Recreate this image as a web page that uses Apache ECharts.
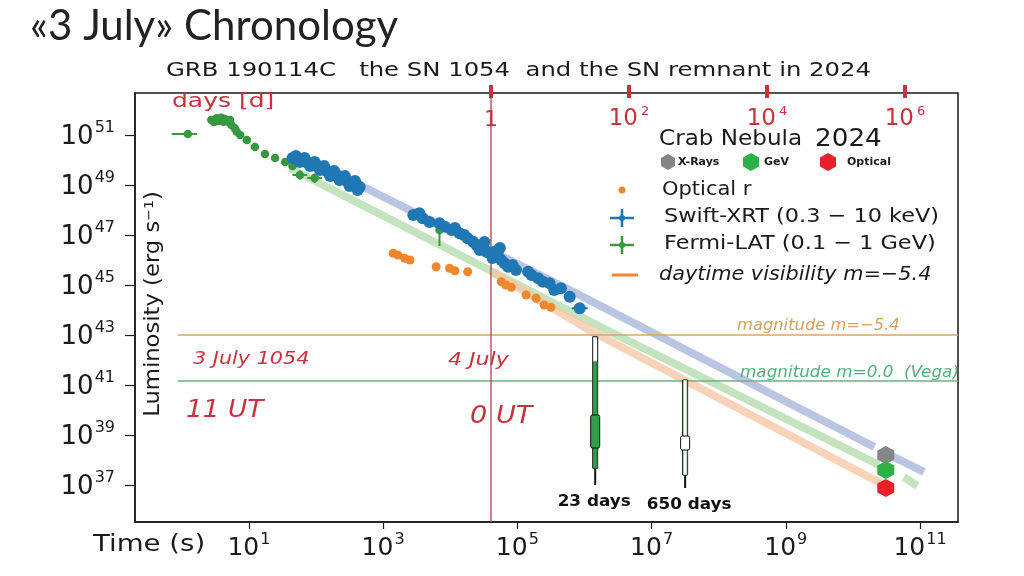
<!DOCTYPE html>
<html><head><meta charset="utf-8">
<script src="https://cdn.jsdelivr.net/npm/echarts@6/dist/echarts.min.js"></script>
<style>html,body{margin:0;padding:0;background:#fff}#c{width:1024px;height:576px}</style>
</head><body><div id="c"></div>
<script>
// All values are exponents: log10(time in s) and log10(luminosity in erg/s)
const xTickExps = [1, 3, 5, 7, 9, 11];
const yTickExps = [37, 39, 41, 43, 45, 47, 49, 51];
const dayTickExps = [0, 2, 4, 6];            // log10(days) on the top axis
const dayMarker = 0;                          // 1 day
const magMinus54 = 43;                        // magnitude m = -5.4
const magVega = 41.16;                        // magnitude m = 0.0 (Vega)
const lineStart = -0.06, lineEnd = 11.566;

const fermiPoints = [
  [0.09,51.04],[0.44,51.60],[0.48,51.52],[0.52,51.67],[0.54,51.56],[0.59,51.69],[0.62,51.53],
  [0.64,51.64],[0.69,51.53],[0.72,51.60],[0.74,51.40],[0.79,51.27],[0.82,51.13],[0.87,51.00],
  [0.97,50.80],[1.09,50.52],[1.24,50.24],[1.39,50.08],[1.54,49.92],[1.65,49.76],
  [1.76,49.40],[1.98,49.28],[3.84,47.20]
];
// [logT, logL, logT low, logT high, logL low, logL high]
const fermiErrors = [
  [0.09,51.04,-0.15,0.23,51.04,51.04],
  [1.76,49.40,1.65,1.87,49.22,49.58],
  [1.98,49.28,1.87,2.09,49.08,49.46],
  [3.84,47.20,3.84,3.84,46.56,47.40]
];
const swiftPoints = [
  [1.65,50.08],[1.71,50.04],[1.76,50.00],[1.80,50.00],[1.85,49.92],[1.89,49.88],[1.94,49.84],
  [1.98,49.80],[2.03,49.76],[2.07,49.68],[2.12,49.64],[2.16,49.56],[2.21,49.52],[2.25,49.44],
  [2.29,49.40],[2.34,49.36],[2.38,49.28],[2.43,49.20],[2.47,49.16],[2.52,49.08],[2.56,49.04],
  [2.61,49.00],[2.65,48.92],[2.62,48.80],[2.50,48.96],[2.35,49.20],[2.21,49.36],[2.06,49.60],
  [1.91,49.76],[1.76,49.92],[1.70,50.16],[1.83,50.08],[1.98,49.92],[2.12,49.76],[2.27,49.56],
  [2.43,49.36],[2.58,49.16],
  [3.45,47.80],[3.54,47.87],[3.59,47.67],[3.69,47.52],[3.84,47.47],[3.92,47.33],[4.02,47.20],
  [4.07,47.28],[4.14,47.07],[4.21,47.00],[4.26,46.87],[4.34,46.73],[4.39,46.60],[4.44,46.40],
  [4.49,46.53],[4.51,46.72],[4.54,46.33],[4.59,46.27],[4.63,46.08],[4.66,46.33],[4.71,46.20],
  [4.74,46.48],[4.76,46.00],[4.81,45.87],[4.86,45.73],[4.93,45.80],[4.98,45.60],[5.16,45.53],
  [5.21,45.40],[5.31,45.27],[5.38,45.13],[5.48,45.07],[5.55,44.80],[5.65,44.87],[5.78,44.53],
  [5.93,44.07]
];
const swiftErrors = [[5.93,44.07,5.81,6.05,44.07,44.07]];
const opticalPoints = [
  [3.15,46.27],[3.22,46.20],[3.32,46.07],[3.40,46.00],[3.79,45.73],[3.99,45.67],[4.07,45.57],
  [4.26,45.53],[4.76,45.13],[4.83,45.00],[4.91,44.91],[5.13,44.60],[5.28,44.47],[5.40,44.20],
  [5.50,44.11]
];
const bandXray = [[2.35,49.40],[5.78,44.80],[10.32,38.52]];
const bandXrayTail = [[10.46,38.32],[11.06,37.52]];
const bandGeV = [[1.61,49.68],[6.27,43.28],[10.39,37.80]];
const bandGeVTail = [[10.76,37.32],[10.96,36.96]];
const bandOptical = [[4.63,45.52],[6.07,43.20],[10.24,37.32],[10.42,37.08]];
const crabXray = [[10.49,38.20]];
const crabGeV = [[10.49,37.60]];
const crabOptical = [[10.49,36.88]];
// [logT, top, fill top, bulge top, bulge bottom, bar bottom, tail bottom]
const thermo = [
  [6.16, 42.93, 41.93, 39.80, 38.48, 37.67, 37.00],
  [7.50, 41.20, 41.20, 38.96, 38.40, 37.40, 36.88]
];
const thermoLabels = ['23 days', '650 days'];

// ---- styles ----
const RED = '#c9323d';
const GREEN = '#37983f', BLUE = '#1f77b4', ORANGE = '#f0862e';
const thermoFill = ['#2f9e44', '#ffffff'];
const HEX = 'path://M0,-1L0.866,-0.5L0.866,0.5L0,1L-0.866,0.5L-0.866,-0.5Z';
const F = '"DejaVu Sans", sans-serif';

const chart = echarts.init(document.getElementById('c'));

function supLabel(base, sub) {
  return {
    b: { fontSize: base, fontFamily: F, color: '#1a1a1a', lineHeight: base + 4, verticalAlign: 'bottom' },
    s: { fontSize: sub, fontFamily: F, color: '#1a1a1a', lineHeight: base + 4, verticalAlign: 'top', padding: [0, 0, 0, 1] }
  };
}
function errRender(params, api) {
  const y0 = api.value(1), x0 = api.value(0);
  const c = api.coord([x0, y0]);
  const xl = api.coord([api.value(2), y0])[0], xh = api.coord([api.value(3), y0])[0];
  const yl = api.coord([x0, api.value(4)])[1], yh = api.coord([x0, api.value(5)])[1];
  const col = api.visual('color');
  return { type: 'group', children: [
    { type: 'line', shape: { x1: xl, y1: c[1], x2: xh, y2: c[1] }, style: { stroke: col, lineWidth: 2 } },
    { type: 'line', shape: { x1: c[0], y1: yl, x2: c[0], y2: yh }, style: { stroke: col, lineWidth: 2 } }
  ]};
}
function thermoRender(params, api) {
  const i = params.dataIndex;
  const x = api.value(0);
  const cx = api.coord([x, api.value(1)])[0];
  const y = k => api.coord([x, api.value(k)])[1];
  const yTop = y(1), yFill = y(2), yB1 = y(3), yB2 = y(4), yBot = y(5), yTail = y(6);
  const fill = thermoFill[i];
  const ch = [
    { type: 'line', shape: { x1: cx, y1: yBot, x2: cx, y2: yTail }, style: { stroke: '#111', lineWidth: 2 } },
    { type: 'rect', shape: { x: cx - 2.5, y: yTop, width: 5, height: yBot - yTop }, style: { fill: '#fff', stroke: '#111', lineWidth: 1 } }
  ];
  if (yFill < yBot) ch.push({ type: 'rect', shape: { x: cx - 2, y: yFill, width: 4, height: yBot - yFill }, style: { fill: fill, stroke: '#1d5e2a', lineWidth: 0.6 } });
  ch.push({ type: 'rect', shape: { x: cx - 4.5, y: yB1, width: 9, height: yB2 - yB1, r: 1.5 }, style: { fill: fill, stroke: '#111', lineWidth: 1 } });
  ch.push({ type: 'text', x: cx + (i ? 4 : -1), y: yTail + 10, scaleX: 1.12,
    style: { text: thermoLabels[i], x: 0, y: 0, align: 'center', verticalAlign: 'top', font: 'bold 15px "DejaVu Sans", sans-serif', fill: '#111' } });
  return { type: 'group', children: ch };
}
function band(name, data, color) {
  return { type: 'line', name: name, data: data, showSymbol: false, symbol: 'none', silent: true, z: 1,
    lineStyle: { color: color, width: 8, opacity: 0.75, cap: 'butt' }, itemStyle: { color: color } };
}
function hline(name, v, color) {
  return { type: 'line', name: name, data: [[lineStart, v], [lineEnd, v]], symbol: 'none', silent: true, z: 2,
    lineStyle: { color: color, width: 1.3 }, itemStyle: { color: color } };
}
function txt(x, y, text, font, fill, sx, extra) {
  return Object.assign({ type: 'text', x: x, y: y, scaleX: sx || 1, z: 10,
    style: { text: text, font: font, fill: fill, verticalAlign: 'middle' } }, extra || {});
}

const topAxisBase = {
  type: 'value', position: 'top', min: -5.159, max: 6.768, gridIndex: 0,
  axisLine: { show: false }, splitLine: { show: false }
};

const option = {
  backgroundColor: '#fff',
  animation: false,
  grid: { left: 135, right: 66, top: 93, bottom: 54, show: true, borderColor: '#1a1a1a', borderWidth: 1.5, containLabel: false, outerBoundsMode: 'none' },
  xAxis: [
    { type: 'value', position: 'bottom', min: -0.697, max: 11.566,
      axisLine: { show: true, onZero: false, lineStyle: { color: '#1a1a1a', width: 1.5 } },
      axisTick: { show: true, customValues: xTickExps, length: 7, lineStyle: { color: '#1a1a1a', width: 1.2 } },
      axisLabel: { customValues: xTickExps, margin: 10, formatter: v => '{b|10}{s|' + v + '}', rich: supLabel(25, 16) },
      splitLine: { show: false } },
    Object.assign({}, topAxisBase, {
      axisTick: { show: true, inside: true, customValues: dayTickExps, length: 5, lineStyle: { color: RED, width: 4 } },
      axisLabel: { inside: true, customValues: dayTickExps, margin: 12,
        formatter: v => v === 0 ? '{one|1}' : '{b|10}{s|' + v + '}',
        rich: { one: { fontSize: 22, fontFamily: F, color: RED, padding: [4, 0, 0, 0] },
                b: { fontSize: 23, fontFamily: F, color: RED, lineHeight: 26, verticalAlign: 'bottom' },
                s: { fontSize: 13, fontFamily: F, color: RED, lineHeight: 26, verticalAlign: 'top', padding: [0, 0, 0, 3] } } } }),
    Object.assign({}, topAxisBase, {
      axisTick: { show: true, inside: false, customValues: dayTickExps, length: 8, lineStyle: { color: RED, width: 4 } },
      axisLabel: { show: false } })
  ],
  yAxis: [
    { type: 'value', min: 35.52, max: 52.68,
      axisLine: { show: true, onZero: false, lineStyle: { color: '#1a1a1a', width: 1.5 } },
      axisTick: { show: true, customValues: yTickExps, length: 10, lineStyle: { color: '#1a1a1a', width: 1.2 } },
      axisLabel: { customValues: yTickExps, margin: 20, formatter: v => '{b|10}{s|' + v + '}', rich: supLabel(26, 16) },
      splitLine: { show: false } }
  ],
  series: [
    band('X-ray extrapolation', bandXray, '#a3b2da'),
    band('X-ray extrapolation tail', bandXrayTail, '#a3b2da'),
    band('GeV extrapolation', bandGeV, '#b2d9aa'),
    band('GeV extrapolation tail', bandGeVTail, '#b2d9aa'),
    band('Optical extrapolation', bandOptical, '#f7c49f'),
    hline('daytime visibility m=−5.4', magMinus54, '#d9a46a'),
    hline('magnitude m=0.0 (Vega)', magVega, '#63b687'),
    { type: 'line', name: '1 day', xAxisIndex: 1, data: [[dayMarker, 35.52], [dayMarker, 52.68]], symbol: 'none', silent: true, z: 2,
      lineStyle: { color: '#a8343f', width: 1.2 } },
    { type: 'scatter', name: 'Optical r', data: opticalPoints, symbolSize: 9, z: 3, itemStyle: { color: ORANGE, opacity: 1 } },
    { type: 'scatter', name: 'Fermi-LAT (0.1 − 1 GeV)', data: fermiPoints, symbolSize: 8.5, z: 3, itemStyle: { color: GREEN, opacity: 1 } },
    { type: 'custom', name: 'Fermi-LAT errors', data: fermiErrors, renderItem: errRender, z: 3, itemStyle: { color: GREEN } },
    { type: 'scatter', name: 'Swift-XRT (0.3 − 10 keV)', data: swiftPoints, symbolSize: 12, z: 4, itemStyle: { color: BLUE, opacity: 1 } },
    { type: 'custom', name: 'Swift-XRT errors', data: swiftErrors, renderItem: errRender, z: 4, itemStyle: { color: BLUE } },
    { type: 'scatter', name: 'Crab X-Rays', data: crabXray, symbol: HEX, symbolSize: [17, 18], z: 5, itemStyle: { color: '#858585', opacity: 1 } },
    { type: 'scatter', name: 'Crab GeV', data: crabGeV, symbol: HEX, symbolSize: [17, 18], z: 5, itemStyle: { color: '#2db24a', opacity: 1 } },
    { type: 'scatter', name: 'Crab Optical', data: crabOptical, symbol: HEX, symbolSize: [17, 18], z: 5, itemStyle: { color: '#e8202a', opacity: 1 } },
    { type: 'custom', name: 'Observations', data: thermo, renderItem: thermoRender, z: 5, clip: false }
  ],
  graphic: [
    txt(30, 26, '«3 July» Chronology', '42px Lato, "Open Sans", sans-serif', '#222', 1),
    txt(166, 71, 'GRB 190114C   the SN 1054  and the SN remnant in 2024', '19px ' + F, '#1a1a1a', 1.28),
    txt(172, 102, 'days [d]', '20px ' + F, RED, 1.25),
    txt(93, 545, 'Time (s)', '23px ' + F, '#1a1a1a', 1.2),
    { type: 'text', x: 154, y: 304, rotation: Math.PI / 2, scaleX: 1.08, z: 10,
      style: { text: 'Luminosity (erg s{s|−1})', font: '21px ' + F, fill: '#1a1a1a', align: 'center', verticalAlign: 'middle',
        backgroundColor: '#fff', rich: { s: { fontSize: 13, fontFamily: F, verticalAlign: 'top', fill: '#1a1a1a' } } } },
    txt(193, 360, '3 July 1054', 'italic 17px ' + F, RED, 1.22),
    txt(448, 361, '4 July', 'italic 17px ' + F, RED, 1.3),
    txt(186, 411, '11 UT', 'italic 24px ' + F, RED, 1.1),
    txt(470, 417, '0 UT', 'italic 24px ' + F, RED, 1.13),
    txt(737, 326, 'magnitude m=−5.4', 'italic 16px ' + F, '#d9a05e', 1.02),
    txt(740, 373, 'magnitude m=0.0  (Vega)', 'italic 16px ' + F, '#52b07c', 1.05),
    // legend block
    txt(659, 140, 'Crab Nebula', '21px ' + F, '#1a1a1a', 1.1),
    txt(815, 139, '2024', '25px ' + F, '#1a1a1a', 1.05),
    { type: 'polygon', shape: { points: [[668,154],[675,158],[675,166],[668,170],[661,166],[661,158]] }, style: { fill: '#858585' } },
    txt(678, 162, 'X-Rays', 'bold 11px ' + F, '#1a1a1a', 1),
    { type: 'polygon', shape: { points: [[751,153],[759,157.5],[759,166.5],[751,171],[743,166.5],[743,157.5]] }, style: { fill: '#2db24a' } },
    txt(764, 162, 'GeV', 'bold 11px ' + F, '#1a1a1a', 1),
    { type: 'polygon', shape: { points: [[828,153],[836,157.5],[836,166.5],[828,171],[820,166.5],[820,157.5]] }, style: { fill: '#e8202a' } },
    txt(847, 162, 'Optical', 'bold 11px ' + F, '#1a1a1a', 1),
    { type: 'circle', shape: { cx: 622, cy: 190, r: 3.5 }, style: { fill: ORANGE } },
    txt(662, 190, 'Optical r', '20px ' + F, '#1a1a1a', 1.05),
    { type: 'line', shape: { x1: 610, y1: 218, x2: 634, y2: 218 }, style: { stroke: BLUE, lineWidth: 2.5 } },
    { type: 'line', shape: { x1: 622, y1: 209, x2: 622, y2: 227 }, style: { stroke: BLUE, lineWidth: 2.5 } },
    { type: 'circle', shape: { cx: 622, cy: 218, r: 3 }, style: { fill: BLUE } },
    txt(664, 217, 'Swift-XRT (0.3 − 10 keV)', '20px ' + F, '#1a1a1a', 1.12),
    { type: 'line', shape: { x1: 610, y1: 245, x2: 634, y2: 245 }, style: { stroke: GREEN, lineWidth: 2.5 } },
    { type: 'line', shape: { x1: 622, y1: 236, x2: 622, y2: 254 }, style: { stroke: GREEN, lineWidth: 2.5 } },
    { type: 'circle', shape: { cx: 622, cy: 245, r: 3 }, style: { fill: GREEN } },
    txt(664, 244, 'Fermi-LAT (0.1 − 1 GeV)', '20px ' + F, '#1a1a1a', 1.12),
    { type: 'line', shape: { x1: 612, y1: 275, x2: 638, y2: 275 }, style: { stroke: ORANGE, lineWidth: 3 } },
    txt(659, 275, 'daytime visibility m=−5.4', 'italic 20px ' + F, '#1a1a1a', 1.04)
  ]
};
chart.setOption(option);
</script>
</body></html>
